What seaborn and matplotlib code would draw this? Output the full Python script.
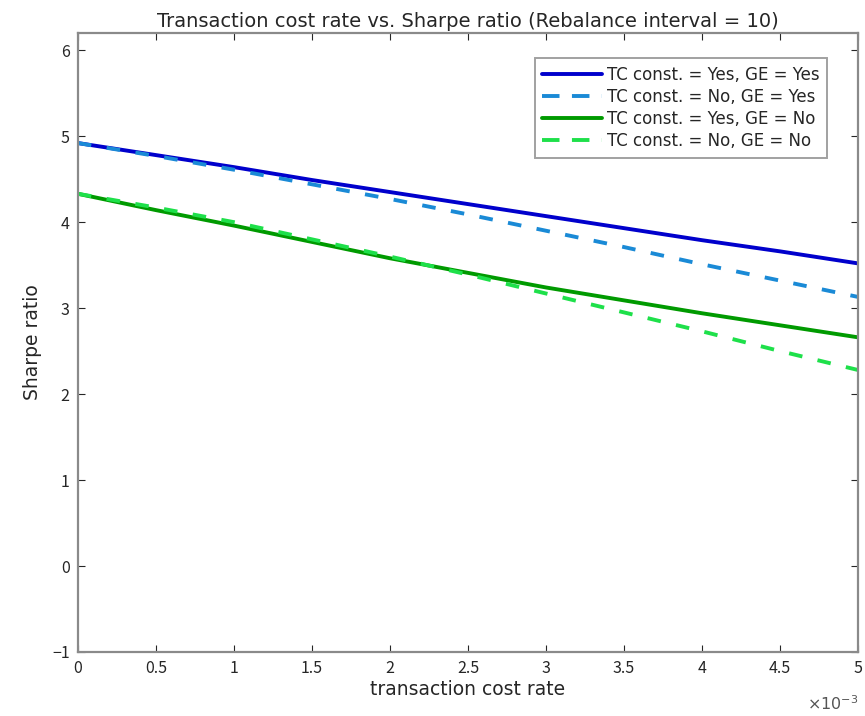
import matplotlib
matplotlib.use("Agg")
import matplotlib.pyplot as plt
import seaborn as sns
import numpy as np
import pandas as pd
from matplotlib.ticker import FuncFormatter, MultipleLocator

# ---- data ----
tc_rate = [0.0, 0.0005, 0.0010, 0.0015, 0.0020, 0.0025, 0.0030, 0.0035, 0.0040, 0.0045, 0.0050]
sr_tc_yes_ge_yes = [4.92, 4.78, 4.64, 4.49, 4.35, 4.21, 4.07, 3.93, 3.79, 3.66, 3.52]
sr_tc_no_ge_yes = [4.92, 4.77, 4.61, 4.44, 4.27, 4.09, 3.90, 3.71, 3.51, 3.32, 3.13]
sr_tc_yes_ge_no = [4.33, 4.14, 3.96, 3.77, 3.58, 3.41, 3.24, 3.09, 2.94, 2.80, 2.66]
sr_tc_no_ge_no = [4.33, 4.17, 4.00, 3.80, 3.60, 3.39, 3.17, 2.95, 2.73, 2.50, 2.28]
series_labels = ["TC const. = Yes, GE = Yes", "TC const. = No, GE = Yes",
                 "TC const. = Yes, GE = No", "TC const. = No, GE = No"]
series_values = [sr_tc_yes_ge_yes, sr_tc_no_ge_yes, sr_tc_yes_ge_no, sr_tc_no_ge_no]
title = "Transaction cost rate vs. Sharpe ratio (Rebalance interval = 10)"

colors = ["#0000cc", "#1a8ad6", "#009a00", "#1ee04a"]
styles = ["-", "--", "-", "--"]

sns.set_style("white")
plt.rcParams["font.family"] = ["Noto Sans CJK JP", "DejaVu Sans"]
wide = ["DejaVu Sans"]

fig = plt.figure(figsize=(8.65, 7.16), dpi=100)
ax = fig.add_axes([0.090, 0.0894, 0.902, 0.8645])

for lab, vals, c, ls in zip(series_labels, series_values, colors, styles):
    df = pd.DataFrame({"x": tc_rate, "y": vals})
    sns.lineplot(data=df, x="x", y="y", ax=ax, color=c, linewidth=2.8, label=lab)
    line = ax.lines[-1]
    if ls == "--":
        line.set_dashes((3.5, 4.0))

ax.set_xlim(0, 0.005)
ax.set_ylim(-1, 6.2)
ax.xaxis.set_major_locator(MultipleLocator(0.0005))
ax.yaxis.set_major_locator(MultipleLocator(1))
ax.xaxis.set_major_formatter(FuncFormatter(lambda v, p: f"{v*1000:g}"))
ax.yaxis.set_major_formatter(FuncFormatter(lambda v, p: f"{v:g}".replace("-", "\u2212")))

ax.tick_params(direction="in", length=5, width=0.8, color="#262626",
               labelsize=11.5, labelcolor="#262626", top=True, right=True,
               bottom=True, left=True, pad=6)
for sp in ax.spines.values():
    sp.set_color("#8a8a8a")
    sp.set_linewidth(1.6)

ax.set_xlabel("transaction cost rate", fontsize=13.5, color="#262626", labelpad=2,
              family=wide)
ax.set_ylabel("Sharpe ratio", fontsize=13.5, color="#262626", labelpad=7, family=wide)
ax.set_title(title, fontsize=14, color="#262626", pad=4, family=wide)

fig.text(0.992, 0.003, r"$\times10^{-3}$", ha="right", va="bottom",
         fontsize=11.5, color="#555555")

leg = ax.legend(loc="upper right", bbox_to_anchor=(0.965, 0.965),
                prop={"family": wide, "size": 12},
                frameon=True, fancybox=False, handlelength=3.6, handletextpad=0.3,
                borderpad=0.45, labelspacing=0.25, borderaxespad=0.2)
leg.get_frame().set_edgecolor("#8a8a8a")
leg.get_frame().set_linewidth(1.4)
for t in leg.get_texts():
    t.set_color("#262626")
for ll, ls in zip(leg.get_lines(), styles):
    if ls == "--":
        ll.set_linestyle((0, (4.5, 3.2)))

fig.savefig("out.png", dpi=100, facecolor="white")
